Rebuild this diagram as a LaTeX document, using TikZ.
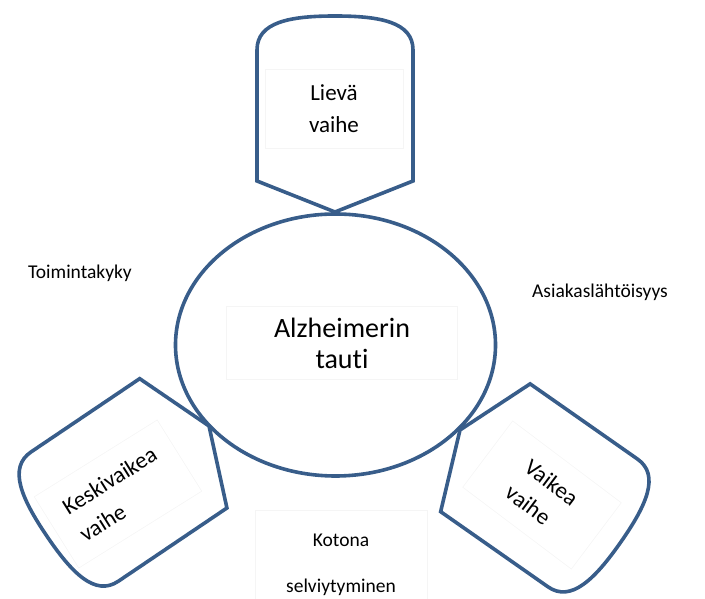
\documentclass[tikz,border=0pt]{standalone}
\usepackage{fontspec}
\setmainfont{Carlito}[Ligatures=NoCommon]
\definecolor{reunasini}{HTML}{385D8A}
\tikzset{
  reuna/.style={draw=reunasini, line width=3.6pt, line join=miter},
  kehys/.style={draw=black!4, line width=0.6pt},
  iso/.style={font=\fontsize{28}{31}\selectfont, align=center},
  keski/.style={font=\fontsize{23}{32}\selectfont},
  pieni/.style={font=\fontsize{19.5}{24}\selectfont},
  pics/vaihe/.style={code={
    \draw[reuna] (0,0) -- (78,31) -- (78,162)
      .. controls (78,190) and (45,196) .. (0,196)
      .. controls (-45,196) and (-78,190) .. (-78,162)
      -- (-78,31) -- cycle;
  }}
}
\begin{document}
\begin{tikzpicture}[x=1pt, y=1pt]
  % Page size
  \useasboundingbox (0,0) rectangle (705,599);

  % Draw the central ellipse
  \draw[reuna] (335.5,254) ellipse [x radius=160, y radius=131];
  \node[kehys, iso, minimum width=231pt, minimum height=73pt] (tauti) at (342,256) {Alzheimerin\\tauti};

  % Draw the three stages
  \pic (lievamuoto) at (335,387) {vaihe};
  \pic[rotate=124] (keskimuoto) at (209,173) {vaihe};
  \pic[rotate=-125] (vaikeamuoto) at (460,169) {vaihe};

  % Label the stages
  \node[kehys, keski, align=center, minimum width=138pt, minimum height=79pt] (lieva) at (334,490) {Lievä\\vaihe};
  \node[kehys, keski, align=left, rotate=32, minimum width=145pt, minimum height=84pt] (keskivaikea) at (118,105) {Keskivaikea\\vaihe};
  \node[kehys, keski, align=left, rotate=-37, minimum width=136pt, minimum height=83pt] (vaikea) at (542,104) {Vaikea\\vaihe};

  % Side labels
  \node[pieni] (toiminta) at (80,326) {Toimintakyky};
  \node[pieni] (asiakas) at (600,307) {Asiakaslähtöisyys};
  \node[kehys, font=\fontsize{19.5}{46}\selectfont, align=center, minimum width=172pt, minimum height=110pt] (kotona) at (341,34) {Kotona\\selviytyminen};

\end{tikzpicture}
\end{document}
